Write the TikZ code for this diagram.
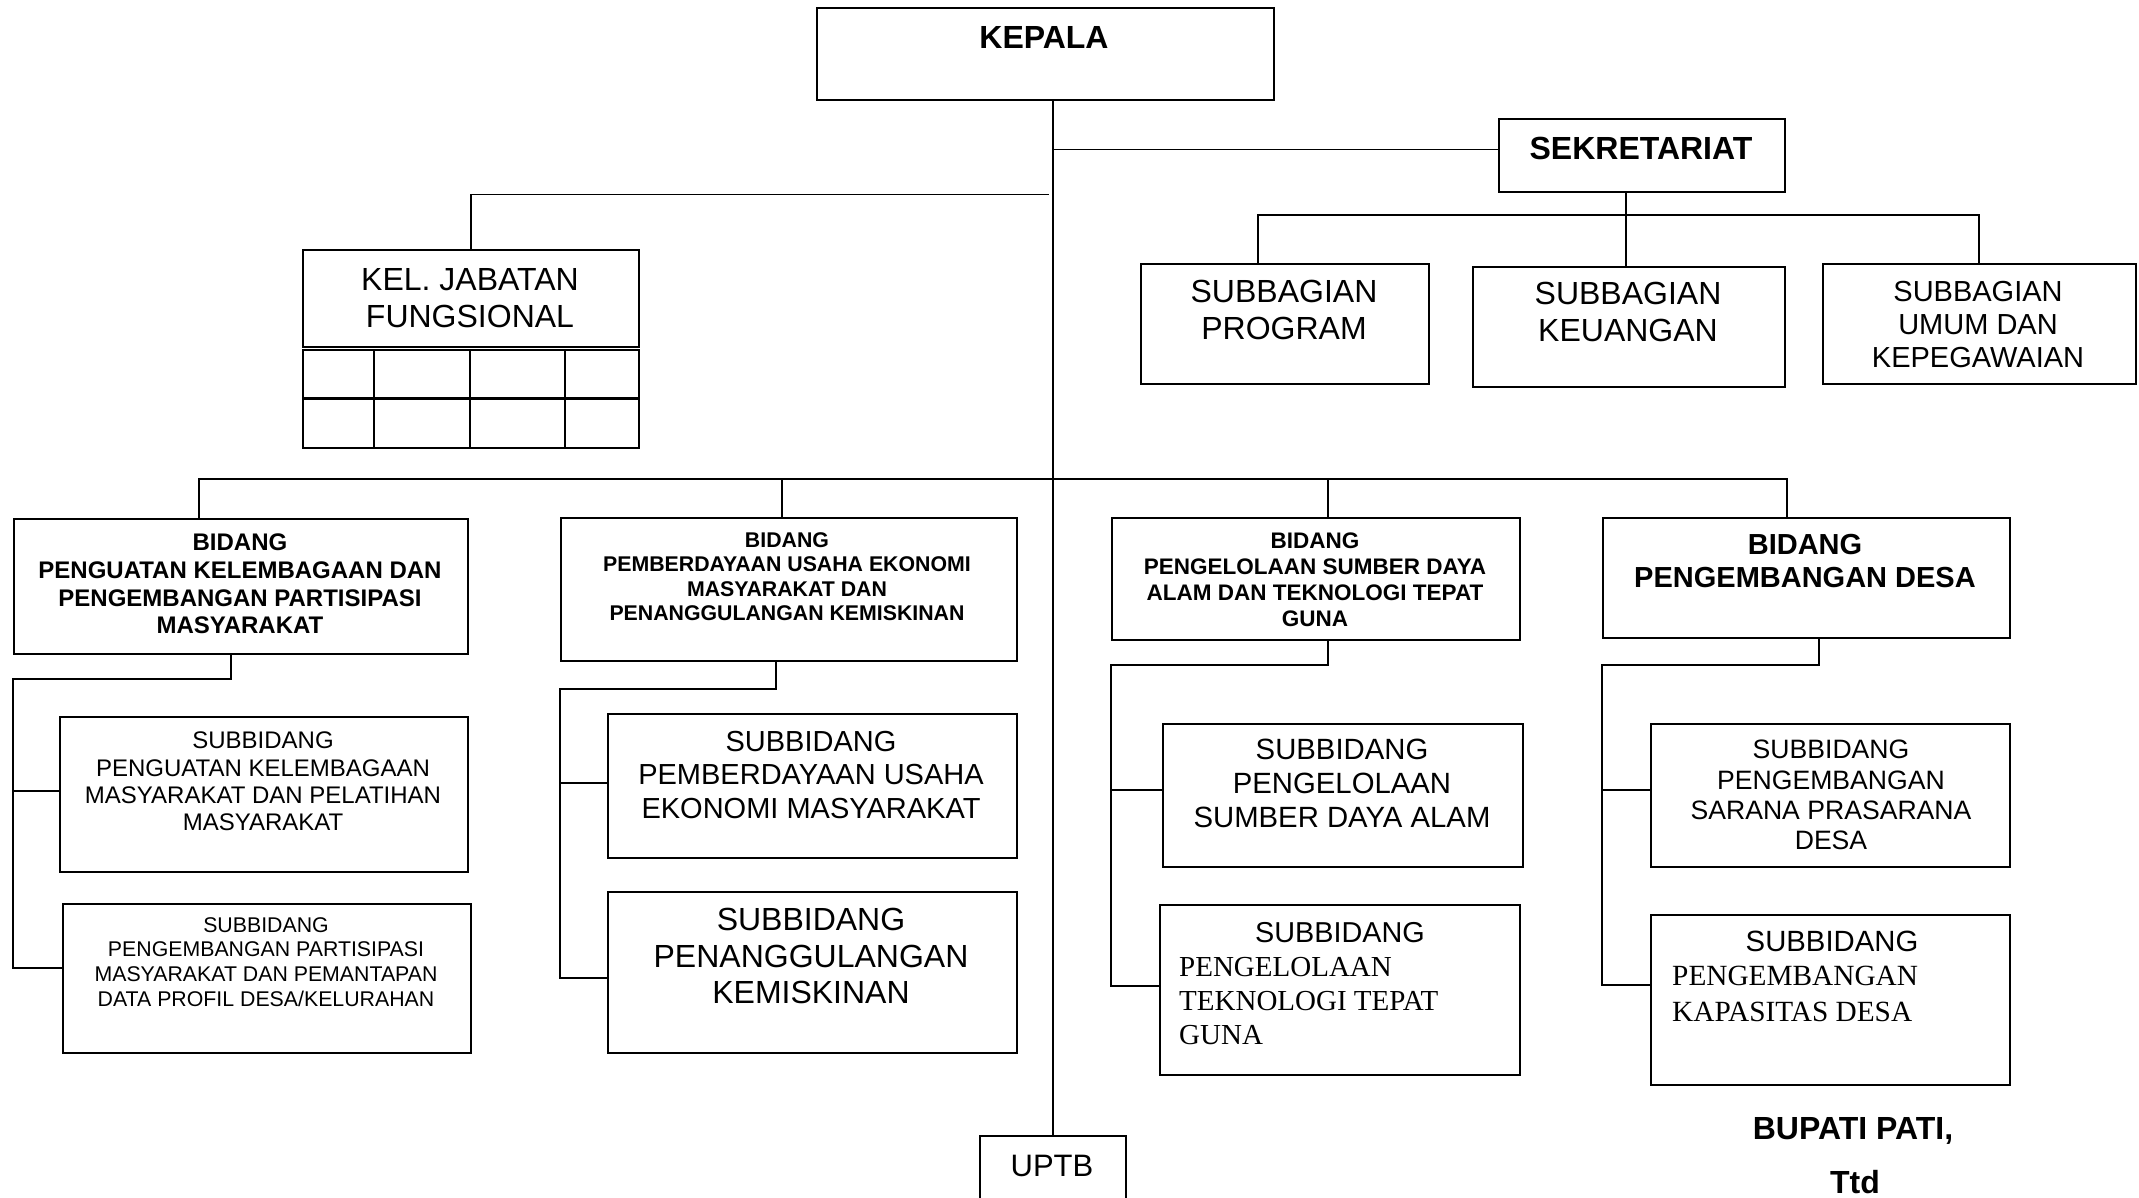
\documentclass[tikz,border=0pt]{standalone}
\usepackage{fontspec}
\setmainfont{Liberation Sans}
\newfontfamily\timesfont{Liberation Serif}
\usetikzlibrary{positioning,calc}
\newcommand{\fsz}[2]{\fontsize{#1}{#2}\selectfont}

\begin{document}
\begin{tikzpicture}[x=1pt, y=1pt,
    box/.style={rectangle, draw, line width=1.8pt, anchor=north west, inner sep=0pt},
    lbl/.style={anchor=north, align=center, inner sep=0pt},
    serifl/.style={anchor=north west, align=left, inner sep=0pt},
    link/.style={line width=1.6pt}
]
\useasboundingbox (0,0) rectangle (2139,-1197);

\node[box, minimum width=457pt, minimum height=92pt] (kepala) at (816,-7) {};
\node[box, minimum width=286pt, minimum height=73pt] (sek) at (1498,-118) {};
\node[box, minimum width=336pt, minimum height=97pt] (kel) at (302,-249) {};
\node[box, minimum width=336pt, minimum height=98pt] (kelgrid) at (302,-349) {};
\node[box, minimum width=288pt, minimum height=120pt] (prog) at (1140,-263) {};
\node[box, minimum width=312pt, minimum height=120pt] (keu) at (1472,-266) {};
\node[box, minimum width=313pt, minimum height=120pt] (umum) at (1822,-263) {};
\node[box, minimum width=454pt, minimum height=135pt] (bid1) at (13,-518) {};
\node[box, minimum width=456pt, minimum height=143pt] (bid2) at (560,-517) {};
\node[box, minimum width=408pt, minimum height=122pt] (bid3) at (1111,-517) {};
\node[box, minimum width=407pt, minimum height=120pt] (bid4) at (1602,-517) {};
\node[box, minimum width=408pt, minimum height=155pt] (sub1a) at (59,-716) {};
\node[box, minimum width=408pt, minimum height=149pt] (sub1b) at (62,-903) {};
\node[box, minimum width=409pt, minimum height=144pt] (sub2a) at (607,-713) {};
\node[box, minimum width=409pt, minimum height=161pt] (sub2b) at (607,-891) {};
\node[box, minimum width=360pt, minimum height=143pt] (sub3a) at (1162,-723) {};
\node[box, minimum width=360pt, minimum height=170pt] (sub3b) at (1159,-904) {};
\node[box, minimum width=359pt, minimum height=143pt] (sub4a) at (1650,-723) {};
\node[box, minimum width=359pt, minimum height=170pt] (sub4b) at (1650,-914) {};
\node[box, minimum width=146pt, minimum height=100pt] (uptb) at (979,-1135) {};

\draw[line width=3pt] (kelgrid.west) -- (kelgrid.east);
\foreach \cx in {374,470,565}
    \draw[link] (\cx,-349) -- (\cx,-447);

\node[lbl, font=\fsz{32}{37}\bfseries] (kepala-txt) at (1044,-26) {KEPALA};
\node[lbl, font=\fsz{32}{37}\bfseries] (sek-txt) at (1641,-137) {SEKRETARIAT};
\node[lbl, font=\fsz{32}{37}] (kel-txt) at (470,-268) {KEL. JABATAN\\FUNGSIONAL};
\node[lbl, font=\fsz{32}{37}] (prog-txt) at (1284,-280) {SUBBAGIAN\\PROGRAM};
\node[lbl, font=\fsz{32}{37}] (keu-txt) at (1628,-282) {SUBBAGIAN\\KEUANGAN};
\node[lbl, font=\fsz{29}{33}] (umum-txt) at (1978,-281) {SUBBAGIAN\\UMUM DAN\\KEPEGAWAIAN};
\node[lbl, font=\fsz{24}{27.6}\bfseries] (bid1-txt) at (240,-534) {BIDANG\\PENGUATAN KELEMBAGAAN DAN\\PENGEMBANGAN PARTISIPASI\\MASYARAKAT};
\node[lbl, font=\fsz{21.3}{24.5}\bfseries] (bid2-txt) at (787,-532) {BIDANG\\PEMBERDAYAAN USAHA EKONOMI\\MASYARAKAT DAN\\PENANGGULANGAN KEMISKINAN};
\node[lbl, font=\fsz{22.5}{26}\bfseries] (bid3-txt) at (1315,-533) {BIDANG\\PENGELOLAAN SUMBER DAYA\\ALAM DAN TEKNOLOGI TEPAT\\GUNA};
\node[lbl, font=\fsz{29}{33}\bfseries] (bid4-txt) at (1805,-534) {BIDANG\\PENGEMBANGAN DESA};
\node[lbl, font=\fsz{24}{27.3}] (sub1a-txt) at (263,-732) {SUBBIDANG\\PENGUATAN KELEMBAGAAN\\MASYARAKAT DAN PELATIHAN\\MASYARAKAT};
\node[lbl, font=\fsz{21.3}{24.7}] (sub1b-txt) at (266,-917) {SUBBIDANG\\PENGEMBANGAN PARTISIPASI\\MASYARAKAT DAN PEMANTAPAN\\DATA PROFIL DESA/KELURAHAN};
\node[lbl, font=\fsz{29}{33.5}] (sub2a-txt) at (811,-731) {SUBBIDANG\\PEMBERDAYAAN USAHA\\EKONOMI MASYARAKAT};
\node[lbl, font=\fsz{32}{36.5}] (sub2b-txt) at (811,-908) {SUBBIDANG\\PENANGGULANGAN\\KEMISKINAN};
\node[lbl, font=\fsz{29.3}{34}] (sub3a-txt) at (1342,-739) {SUBBIDANG\\PENGELOLAAN\\SUMBER DAYA ALAM};
\node[lbl, font=\fsz{28.8}{34}] (sub3b-txt) at (1340,-922) {SUBBIDANG};
\node[serifl, font=\timesfont\fsz{29}{34}] (sub3b-sub) at (1179,-957.5) {PENGELOLAAN\\TEKNOLOGI TEPAT\\GUNA};
\node[lbl, font=\fsz{26.6}{30.3}] (sub4a-txt) at (1831,-740) {SUBBIDANG\\PENGEMBANGAN\\SARANA PRASARANA\\DESA};
\node[lbl, font=\fsz{29.3}{34}] (sub4b-txt) at (1832,-930.5) {SUBBIDANG};
\node[serifl, font=\timesfont\fsz{29.3}{36}] (sub4b-sub) at (1672,-965.6) {PENGEMBANGAN\\KAPASITAS DESA};
\node[lbl, font=\fsz{31}{36}] (uptb-txt) at (1052,-1155) {UPTB};
\node[lbl, font=\fsz{32}{37}\bfseries] (bupati) at (1853,-1117) {BUPATI PATI,};
\node[lbl, font=\fsz{32}{37}\bfseries] (ttd) at (1855,-1170) {Ttd};

\draw[link] (uptb.north |- kepala.south) -- (uptb.north);
\coordinate (sekin) at ([yshift=6pt]sek.west);
\draw[link] (sekin -| uptb.north) -- (sekin);
\coordinate (kelin) at (1049,-194.5);
\draw[link] (kel.north) |- (kelin);

\coordinate (bagbus) at (1626,-215);
\draw[link] (bagbus |- sek.south) -- (bagbus);
\draw[link] ([xshift=-27pt]prog.north) |- (bagbus) -| ([xshift=-0.5pt]umum.north);
\draw[link] (bagbus) -- (bagbus |- keu.north);

\draw[link] ([xshift=-42pt]bid1.north) -- ++(0,39) -| ([xshift=-19.5pt]bid4.north);
\draw[link] ([xshift=-7pt]bid2.north) -- ++(0,38);
\draw[link] ([xshift=12pt]bid3.north) -- ++(0,38);

\coordinate (s1a) at ([yshift=3.5pt]sub1a.west);
\coordinate (s1b) at ([yshift=10.5pt]sub1b.west);
\draw[link] ([xshift=-10pt]bid1.south) -- ++(0,-24) -| (s1b -| bid1.west) -- (s1b);
\draw[link] (s1a -| bid1.west) -- (s1a);

\coordinate (s2a) at ([yshift=3pt]sub2a.west);
\coordinate (s2b) at ([yshift=-5.5pt]sub2b.west);
\draw[link] ([xshift=-13pt]bid2.south) -- ++(0,-27) -| (s2b -| bid2.west) -- (s2b);
\draw[link] (s2a -| bid2.west) -- (s2a);

\coordinate (s3a) at ([yshift=5.5pt]sub3a.west);
\coordinate (s3b) at ([yshift=4pt]sub3b.west);
\draw[link] ([xshift=12pt]bid3.south) -- ++(0,-24) -| (s3b -| bid3.west) -- (s3b);
\draw[link] (s3a -| bid3.west) -- (s3a);

\coordinate (s4a) at ([yshift=5.5pt]sub4a.west);
\coordinate (s4b) at ([yshift=15pt]sub4b.west);
\draw[link] ([xshift=12.5pt]bid4.south) -- ++(0,-26) -| (s4b -| bid4.west) -- (s4b);
\draw[link] (s4a -| bid4.west) -- (s4a);
\end{tikzpicture}
\end{document}
